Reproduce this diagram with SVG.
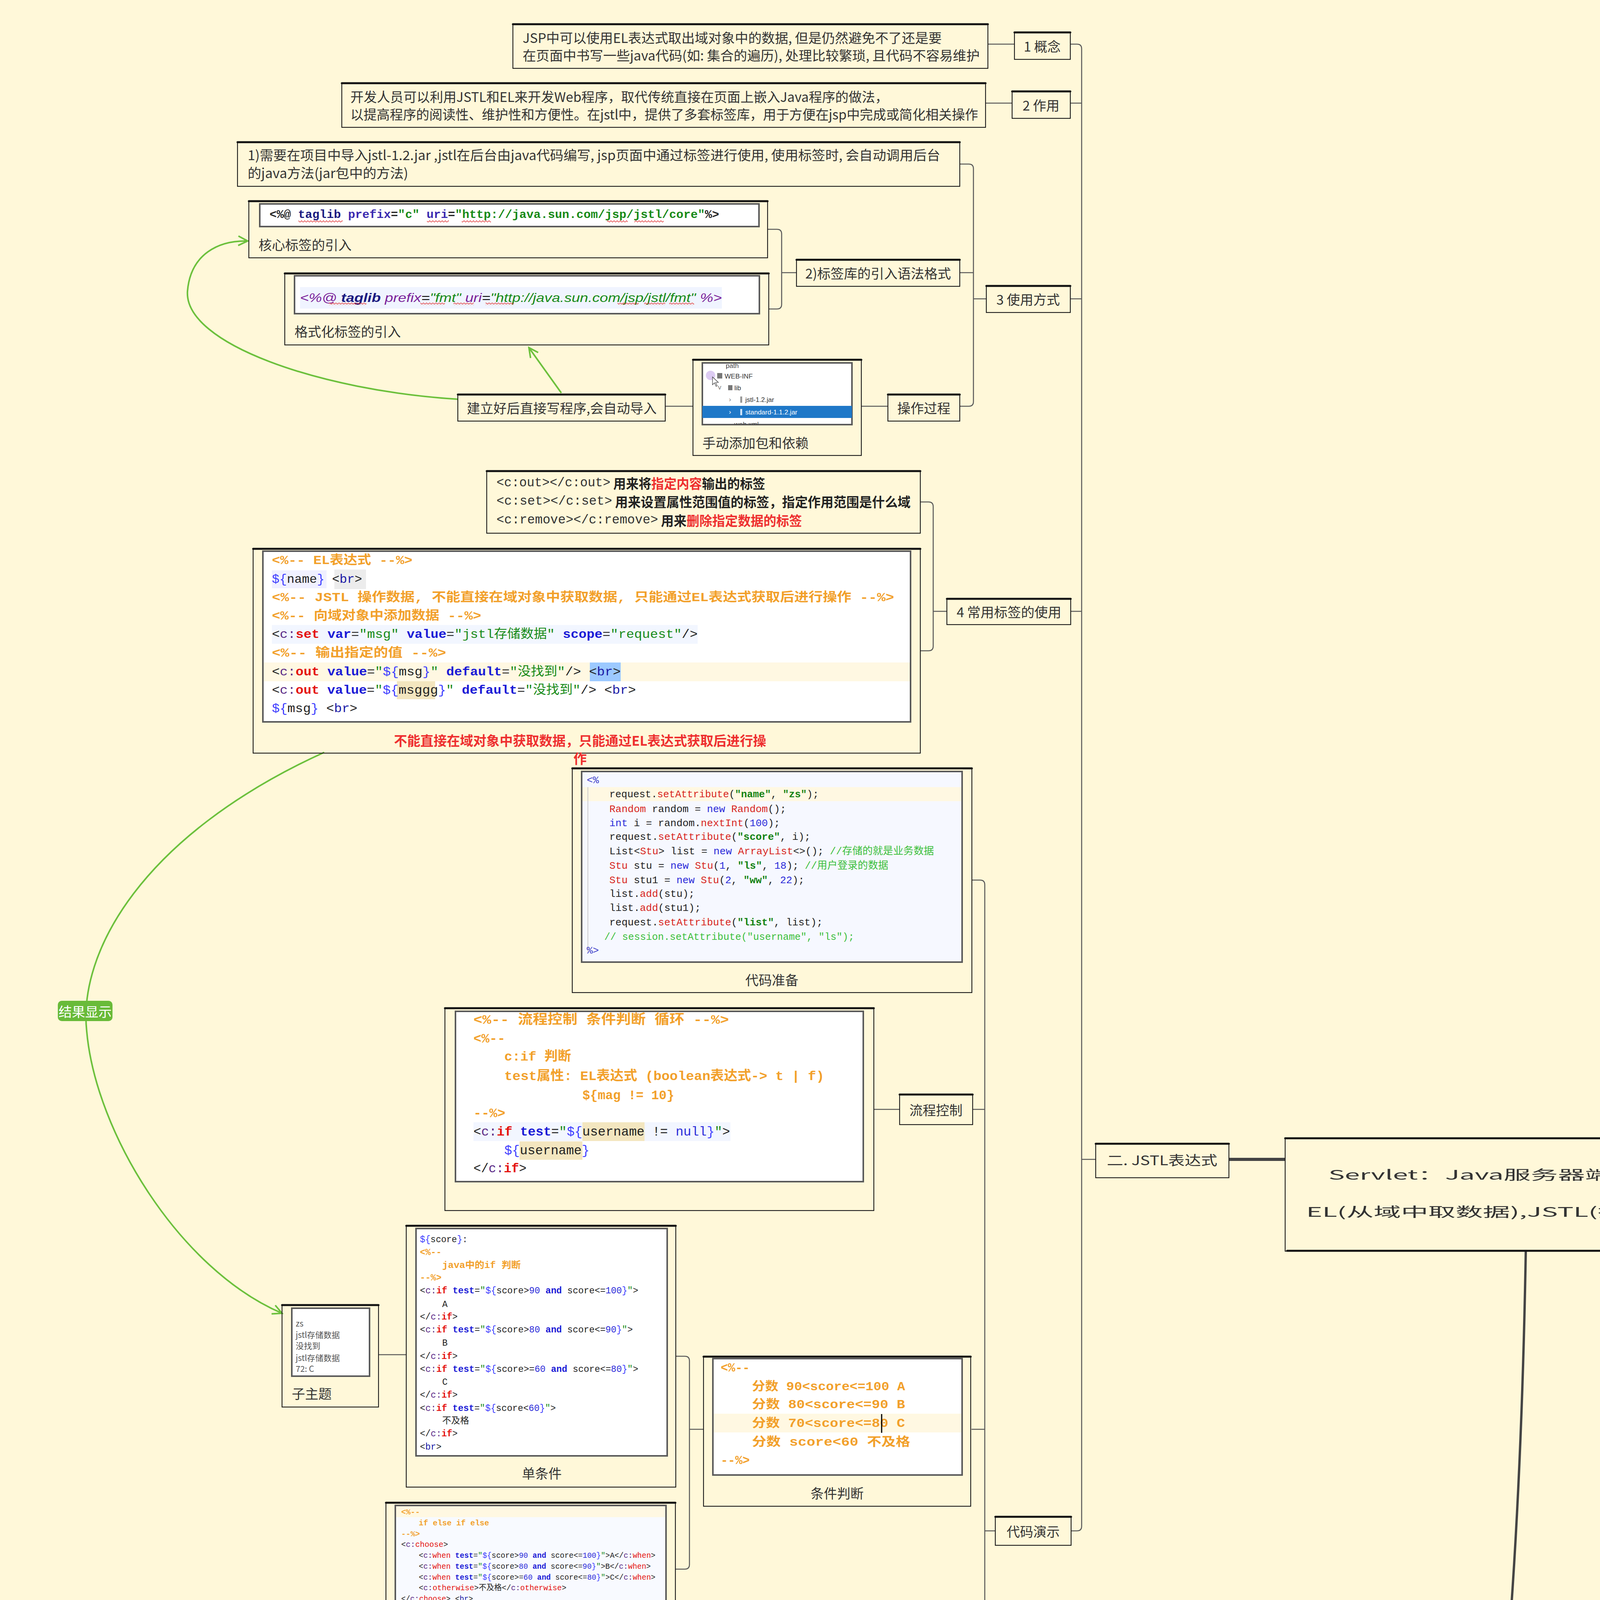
<svg xmlns="http://www.w3.org/2000/svg" width="5010" height="6101" viewBox="0 0 5010 6101" xml:space="preserve">
<defs>
<style>
.t{font-family:"Noto Sans CJK SC","Noto Sans",sans-serif;fill:#333;font-size:34px;dominant-baseline:central}
.tm{text-anchor:middle}
.nb{fill:none;stroke:#1b1b1b;stroke-width:2.2}
.tp{fill:none;stroke:#111;stroke-width:5;stroke-linecap:round}
.cn{fill:none;stroke:#595959;stroke-width:2.6}
.thick{fill:none;stroke:#444;stroke-width:8}
.gr{fill:none;stroke:#6cc03c;stroke-width:4}
.img{fill:#fff;stroke:#5a5a5a;stroke-width:4}
.c{font-family:"Liberation Mono","Noto Sans CJK SC",monospace;fill:#222;dominant-baseline:central}
.o{fill:#F2A02A;font-weight:bold}
.ns{fill:#5b2a86}
.tg{fill:#e4110e;font-weight:bold}
.tr{fill:#e4110e}
.at{fill:#1a1ad6;font-weight:bold}
.sv{fill:#178a17}
.el{fill:#3d3dff}
.bl{fill:#1a1aa6}
.mt{fill:#d8261e}
.kw{fill:#2b2bd9}
.st{fill:#128212;font-weight:bold}
.jc{fill:#3cbf3c}
.pc{fill:#3c3cc8}
.rd{fill:#ee2f2f}
.bd{font-weight:bold;fill:#222}
.wv{fill:url(#wave)}
</style>
<pattern id="wave" x="0" y="0" width="8" height="6" patternUnits="userSpaceOnUse"><path d="M0,5 L4,1 L8,5" fill="none" stroke="#e03030" stroke-width="1.4"/></pattern>
<marker id="ah" markerWidth="32" markerHeight="32" refX="28" refY="16" orient="auto" markerUnits="userSpaceOnUse"><path d="M4,4 L28,16 L4,28" fill="none" stroke="#6cc03c" stroke-width="4"/></marker>
<clipPath id="treeclip"><rect x="1798" y="929" width="383" height="158"/></clipPath>
<clipPath id="resclip"><rect x="1724" y="5397" width="739" height="404"/></clipPath>
</defs>
<rect x="0" y="0" width="5010" height="6101" fill="#FFF8D9"/>

<g id="connectors">
<path class="cn" d="M2529,113 H2597"/>
<path class="cn" d="M2523,264 H2591"/>
<path class="cn" d="M2740,113 H2757 Q2769,113 2769,125 V3907 Q2769,3919 2757,3919 H2742"/>
<path class="cn" d="M2740,264 H2769 M2740,765 H2769 M2741,1565 H2769 M2769,2968 H2805"/>
<path class="cn" d="M2457,420 H2480 Q2492,420 2492,432 V1028 Q2492,1040 2480,1040 H2457"/>
<path class="cn" d="M2457,698 H2492 M2492,765 H2525"/>
<path class="cn" d="M1965,587 H1989 Q2001,587 2001,599 V779 Q2001,791 1989,791 H1968"/>
<path class="cn" d="M2001,698 H2039"/>
<path class="cn" d="M2205,1040 H2273 M1703,1040 H1774"/>
<path class="cn" d="M2356,1285 H2377 Q2389,1285 2389,1297 V1654 Q2389,1666 2377,1666 H2356"/>
<path class="cn" d="M2389,1565 H2424"/>
<path class="cn" d="M2488,2253 H2509 Q2521,2253 2521,2265 V5623 Q2521,5635 2509,5635 H2485"/>
<path class="cn" d="M2489,2840 H2521 M2487,3659 H2521 M2490,4786 H2521 M2521,3919 H2548"/>
<path class="cn" d="M2237,2840 H2303"/>
<path class="cn" d="M1730,3472 H1753 Q1765,3472 1765,3484 V4005 Q1765,4017 1753,4017 H1729"/>
<path class="cn" d="M1765,3659 H1801"/>
<path class="cn" d="M969,3468 H1040"/>
<path class="cn" d="M2236,4501 H2256 Q2268,4501 2268,4513 V5075 Q2268,5087 2256,5087 H2235"/>
<path class="cn" d="M2268,4786 H2303"/>
<path class="cn" d="M1390,4501 H1460"/>
<path class="cn" d="M1368,4952 H1385 Q1395,4952 1395,4962 V5226 Q1395,5236 1385,5236 H1368"/>
<path class="cn" d="M1395,5087 H1437"/>
<path class="thick" d="M3146,2968 H3290"/>
<path class="thick" d="M4525,3054 H4671"/>
<path fill="none" stroke="#444" stroke-width="6" d="M3906,3203 C3880,4700 3720,5995 3146,6000"/>
<path class="gr" d="M1172,1022 C820,1000 470,880 480,745 C488,650 560,615 634,617" marker-end="url(#ah)"/>
<path class="gr" d="M1437,1006 L1354,890" marker-end="url(#ah)"/>
<path class="gr" d="M830,1926 C360,2140 200,2440 222,2640 C245,2900 460,3250 722,3362" marker-end="url(#ah)"/>
<g id="green-label"><rect x="148" y="2562" width="140" height="52" rx="10" fill="#69bb39"/><text class="t tm" x="218" y="2588" font-size="24" style="fill:#fff">结果显示</text></g>
</g>

<g id="central">
<rect class="nb" x="3290" y="2913" width="1235" height="290"/>
<path class="tp" d="M3290,2914 H4525 M3295,3202 H4520"/>
<text class="t tm" x="3911" y="3005" font-size="70" textLength="1020" lengthAdjust="spacingAndGlyphs">Servlet：Java服务器端小应用(4)</text>
<text class="t tm" x="3908" y="3100" font-size="70" textLength="1128" lengthAdjust="spacingAndGlyphs">EL(从域中取数据),JSTL(操作EL数据)</text>
</g>
<g id="n-el"><rect class="nb" x="4671" y="3011" width="284" height="87"/><path class="tp" d="M4671,3012 H4955"/><text class="t tm" x="4810" y="3054" font-size="40" textLength="231" lengthAdjust="spacingAndGlyphs">一. EL表达式</text></g>
<g id="n-jstl"><rect class="nb" x="2805" y="2927" width="341" height="88"/><path class="tp" d="M2805,2928 H3146"/><text class="t tm" x="2975" y="2968" font-size="40" textLength="283" lengthAdjust="spacingAndGlyphs">二. JSTL表达式</text></g>
<g id="n-case"><rect class="nb" x="2880" y="5958" width="266" height="89"/><path class="tp" d="M2880,5959 H3146"/><text class="t tm" x="3012" y="6002" font-size="46" textLength="214" lengthAdjust="spacingAndGlyphs">三 综合案例</text></g>

<g id="n-gainian"><rect class="nb" x="2597" y="82" width="143" height="70"/><path class="tp" d="M2597,83 H2740"/><text class="t tm" x="2668" y="117" font-size="35">1 概念</text></g>
<g id="n-zuoyong"><rect class="nb" x="2591" y="233" width="149" height="70"/><path class="tp" d="M2591,234 H2740"/><text class="t tm" x="2665" y="268" font-size="35">2 作用</text></g>
<g id="n-shiyong"><rect class="nb" x="2525" y="731" width="215" height="69"/><path class="tp" d="M2525,732 H2740"/><text class="t tm" x="2632" y="765" font-size="35">3 使用方式</text></g>
<g id="n-changyong"><rect class="nb" x="2424" y="1532" width="317" height="67"/><path class="tp" d="M2424,1533 H2741"/><text class="t tm" x="2583" y="1565" font-size="35" textLength="268" lengthAdjust="spacingAndGlyphs">4 常用标签的使用</text></g>
<g id="n-yanshi"><rect class="nb" x="2548" y="3882" width="194" height="74"/><path class="tp" d="M2548,3883 H2742"/><text class="t tm" x="2645" y="3919" font-size="35">代码演示</text></g>
<g id="n-yufa"><rect class="nb" x="2039" y="664" width="418" height="69"/><path class="tp" d="M2039,665 H2457"/><text class="t tm" x="2248" y="698" font-size="35" textLength="373" lengthAdjust="spacingAndGlyphs">2)标签库的引入语法格式</text></g>
<g id="n-caozuo"><rect class="nb" x="2273" y="1009" width="184" height="69"/><path class="tp" d="M2273,1010 H2457"/><text class="t tm" x="2365" y="1043" font-size="35">操作过程</text></g>
<g id="n-jianli"><rect class="nb" x="1172" y="1009" width="531" height="69"/><path class="tp" d="M1172,1010 H1703"/><text class="t tm" x="1438" y="1043" font-size="35" textLength="486" lengthAdjust="spacingAndGlyphs">建立好后直接写程序,会自动导入</text></g>
<g id="n-liucheng"><rect class="nb" x="2303" y="2801" width="187" height="78"/><path class="tp" d="M2303,2802 H2490"/><text class="t tm" x="2396" y="2840" font-size="35">流程控制</text></g>
<g id="n-xunhuan"><rect class="nb" x="2303" y="4750" width="187" height="73"/><path class="tp" d="M2303,4751 H2490"/><text class="t tm" x="2396" y="4786" font-size="35">循环遍历</text></g>

<g id="b-concept"><rect class="nb" x="1313" y="61" width="1216" height="114"/><path class="tp" d="M1313,62 H2529"/>
<text class="t" x="1338" y="95" font-size="35" textLength="1073" lengthAdjust="spacingAndGlyphs">JSP中可以使用EL表达式取出域对象中的数据, 但是仍然避免不了还是要</text>
<text class="t" x="1338" y="140" font-size="35" textLength="1170" lengthAdjust="spacingAndGlyphs">在页面中书写一些java代码(如: 集合的遍历), 处理比较繁琐, 且代码不容易维护</text></g>
<g id="b-role"><rect class="nb" x="875" y="212" width="1648" height="114"/><path class="tp" d="M875,213 H2523"/>
<text class="t" x="897" y="246" font-size="35" textLength="1377" lengthAdjust="spacingAndGlyphs">开发人员可以利用JSTL和EL来开发Web程序，取代传统直接在页面上嵌入Java程序的做法，</text>
<text class="t" x="897" y="291" font-size="35" textLength="1607" lengthAdjust="spacingAndGlyphs">以提高程序的阅读性、维护性和方便性。在jstl中，提供了多套标签库，用于方便在jsp中完成或简化相关操作</text></g>
<g id="b-import"><rect class="nb" x="608" y="363" width="1849" height="114"/><path class="tp" d="M608,364 H2457"/>
<text class="t" x="634" y="395" font-size="35" textLength="1773" lengthAdjust="spacingAndGlyphs">1)需要在项目中导入jstl-1.2.jar ,jstl在后台由java代码编写, jsp页面中通过标签进行使用, 使用标签时, 会自动调用后台</text>
<text class="t" x="634" y="441" font-size="35" textLength="411" lengthAdjust="spacingAndGlyphs">的java方法(jar包中的方法)</text></g>

<g id="b-core"><rect class="nb" x="637" y="514" width="1328" height="146"/><path class="tp" d="M637,515 H1965"/>
<rect class="img" x="665" y="522" width="1278" height="58"/>
<text class="c" x="690" y="550" font-size="30" font-weight="bold" textLength="1151" lengthAdjust="spacingAndGlyphs">&lt;%@ <tspan style="fill:#1a1a80">taglib</tspan> <tspan style="fill:#3a2ab0">prefix</tspan>=<tspan class="sv">"c"</tspan> <tspan style="fill:#3a2ab0">uri</tspan>=<tspan class="sv">"http://java.sun.com/jsp/jstl/core"</tspan>%&gt;</text>
<rect class="wv" x="764" y="563" width="113" height="6"/><rect class="wv" x="1093" y="563" width="56" height="6"/><rect class="wv" x="1182" y="563" width="75" height="6"/><rect class="wv" x="1554" y="563" width="53" height="6"/><rect class="wv" x="1624" y="563" width="75" height="6"/>
<text class="t" x="662" y="625" font-size="34">核心标签的引入</text></g>
<g id="b-fmt"><rect class="nb" x="729" y="699" width="1239" height="184"/><path class="tp" d="M729,700 H1968"/>
<rect class="img" x="754" y="706" width="1190" height="97"/>
<rect x="768" y="735" width="1080" height="55" fill="#f0f4ff"/>
<text x="768" y="762" font-family="Liberation Sans, sans-serif" font-style="italic" font-size="32" dominant-baseline="central" textLength="1080" lengthAdjust="spacingAndGlyphs"><tspan fill="#7a1f9a">&lt;%@</tspan> <tspan fill="#1a1a80" font-weight="bold">taglib</tspan> <tspan fill="#7a1f9a">prefix</tspan>=<tspan fill="#178a17">"fmt"</tspan> <tspan fill="#7a1f9a">uri</tspan>=<tspan fill="#178a17">"http://java.sun.com/jsp/jstl/fmt"</tspan> <tspan fill="#7a1f9a">%&gt;</tspan></text>
<rect class="wv" x="842" y="775" width="96" height="6"/><rect class="wv" x="1076" y="775" width="63" height="6"/><rect class="wv" x="1161" y="775" width="52" height="6"/><rect class="wv" x="1243" y="775" width="73" height="6"/><rect class="wv" x="1581" y="775" width="54" height="6"/><rect class="wv" x="1649" y="775" width="54" height="6"/><rect class="wv" x="1713" y="775" width="64" height="6"/>
<text class="t" x="754" y="847" font-size="34">格式化标签的引入</text></g>

<g id="b-jar"><rect class="nb" x="1774" y="920" width="431" height="246"/><path class="tp" d="M1774,921 H2205"/>
<rect class="img" x="1798" y="929" width="383" height="158"/>
<g clip-path="url(#treeclip)" font-family="Liberation Sans, sans-serif" font-size="17">
<text x="1858" y="936" fill="#444" dominant-baseline="central">path</text>
<circle cx="1819" cy="961" r="12" fill="#dccbf2"/>
<rect x="1836" y="955" width="13" height="14" fill="#777"/>
<text x="1855" y="963" fill="#333" dominant-baseline="central">WEB-INF</text>
<text x="1838" y="991" fill="#777" dominant-baseline="central">v</text>
<rect x="1864" y="986" width="11" height="13" fill="#777"/>
<text x="1880" y="993" fill="#333" dominant-baseline="central">lib</text>
<text x="1866" y="1022" fill="#777" dominant-baseline="central">›</text>
<rect x="1895" y="1015" width="5" height="16" fill="#999"/>
<text x="1908" y="1023" fill="#333" dominant-baseline="central">jstl-1.2.jar</text>
<rect x="1798" y="1039" width="383" height="31" fill="#1f78c8"/>
<text x="1866" y="1054" fill="#fff" dominant-baseline="central">›</text>
<rect x="1895" y="1047" width="5" height="16" fill="#cfe3f7"/>
<text x="1908" y="1055" fill="#fff" dominant-baseline="central">standard-1.1.2.jar</text>
<text x="1880" y="1086" fill="#444" dominant-baseline="central">web.xml</text>
<path d="M1824,965 l0,20 l5,-5 l4,9 l3,-1 l-4,-9 l7,0 z" fill="#fff" stroke="#333" stroke-width="1.2"/>
</g>
<text class="t" x="1798" y="1132" font-size="34">手动添加包和依赖</text></g>

<g id="b-tags"><rect class="nb" x="1246" y="1205" width="1110" height="160"/><path class="tp" d="M1246,1206 H2356"/>
<text class="t" x="1271" y="1236" font-size="32" textLength="688" lengthAdjust="spacingAndGlyphs"><tspan font-family="Liberation Mono, monospace">&lt;c:out&gt;&lt;/c:out&gt;</tspan> <tspan class="bd">用来将</tspan><tspan class="rd" font-weight="bold">指定内容</tspan><tspan class="bd">输出的标签</tspan></text>
<text class="t" x="1271" y="1283" font-size="32" textLength="1060" lengthAdjust="spacingAndGlyphs"><tspan font-family="Liberation Mono, monospace">&lt;c:set&gt;&lt;/c:set&gt;</tspan> <tspan class="bd">用来设置属性范围值的标签，指定作用范围是什么域</tspan></text>
<text class="t" x="1271" y="1331" font-size="32" textLength="782" lengthAdjust="spacingAndGlyphs"><tspan font-family="Liberation Mono, monospace">&lt;c:remove&gt;&lt;/c:remove&gt;</tspan> <tspan class="bd">用来</tspan><tspan class="rd" font-weight="bold">删除指定数据的标签</tspan></text></g>

<g id="b-elcode"><rect class="nb" x="648" y="1404" width="1708" height="524"/><path class="tp" d="M648,1405 H2356"/>
<rect class="img" x="673" y="1411" width="1658" height="437"/>
<rect x="696" y="1460" width="140" height="46" fill="#f0f0ff"/><rect x="856" y="1458" width="81" height="50" fill="#ececec"/>
<rect x="696" y="1600" width="1090" height="48" fill="#f2f6ff"/>
<rect x="675" y="1696" width="1654" height="48" fill="#fff8e2"/>
<rect x="1510" y="1696" width="79" height="48" fill="#9cc9ff"/>
<rect x="1016" y="1744" width="98" height="46" fill="#f3e6bf"/>
<text class="c o" x="696" y="1435" font-size="32" textLength="360" lengthAdjust="spacingAndGlyphs">&lt;%-- EL表达式 --%&gt;</text>
<text class="c" x="696" y="1483" font-size="32" textLength="231" lengthAdjust="spacingAndGlyphs"><tspan class="el">${</tspan>name<tspan class="el">}</tspan> &lt;<tspan class="bl">br</tspan>&gt;</text>
<text class="c o" x="696" y="1530" font-size="32" textLength="1593" lengthAdjust="spacingAndGlyphs">&lt;%-- JSTL 操作数据, 不能直接在域对象中获取数据, 只能通过EL表达式获取后进行操作 --%&gt;</text>
<text class="c o" x="696" y="1577" font-size="32" textLength="536" lengthAdjust="spacingAndGlyphs">&lt;%-- 向域对象中添加数据 --%&gt;</text>
<text class="c" x="696" y="1624" font-size="32" textLength="1090" lengthAdjust="spacingAndGlyphs">&lt;<tspan class="ns">c:</tspan><tspan class="tg">set</tspan> <tspan class="at">var</tspan>=<tspan class="sv">"msg"</tspan> <tspan class="at">value</tspan>=<tspan class="sv">"jstl存储数据"</tspan> <tspan class="at">scope</tspan>=<tspan class="sv">"request"</tspan>/&gt;</text>
<text class="c o" x="696" y="1672" font-size="32" textLength="446" lengthAdjust="spacingAndGlyphs">&lt;%-- 输出指定的值  --%&gt;</text>
<text class="c" x="696" y="1720" font-size="32" textLength="893" lengthAdjust="spacingAndGlyphs">&lt;<tspan class="ns">c:</tspan><tspan class="tg">out</tspan> <tspan class="at">value</tspan>=<tspan class="sv">"</tspan><tspan class="el">${</tspan>msg<tspan class="el">}</tspan><tspan class="sv">"</tspan> <tspan class="at">default</tspan>=<tspan class="sv">"没找到"</tspan>/&gt; &lt;<tspan class="bl">br</tspan>&gt;</text>
<text class="c" x="696" y="1767" font-size="32" textLength="932" lengthAdjust="spacingAndGlyphs">&lt;<tspan class="ns">c:</tspan><tspan class="tg">out</tspan> <tspan class="at">value</tspan>=<tspan class="sv">"</tspan><tspan class="el">${</tspan>msggg<tspan class="el">}</tspan><tspan class="sv">"</tspan> <tspan class="at">default</tspan>=<tspan class="sv">"没找到"</tspan>/&gt; &lt;<tspan class="bl">br</tspan>&gt;</text>
<text class="c" x="696" y="1814" font-size="32" textLength="219" lengthAdjust="spacingAndGlyphs"><tspan class="el">${</tspan>msg<tspan class="el">}</tspan> &lt;<tspan class="bl">br</tspan>&gt;</text>
<text class="t rd tm" x="1485" y="1894" font-size="34" font-weight="bold" textLength="953" lengthAdjust="spacingAndGlyphs" style="fill:#ee2f2f">不能直接在域对象中获取数据，只能通过EL表达式获取后进行操</text>
<text class="t tm" x="1485" y="1940" font-size="34" font-weight="bold" style="fill:#ee2f2f">作</text></g>

<g id="b-prep"><rect class="nb" x="1465" y="1966" width="1023" height="575"/><path class="tp" d="M1465,1967 H2488"/>
<rect class="img" x="1489" y="1975" width="974" height="488" style="fill:#f6f8ff"/>
<rect x="1491" y="2015" width="970" height="36" fill="#fff8e2"/>
<path d="M1505,2015 V2440" stroke="#ccc" stroke-width="2"/>
<g font-size="26">
<text class="c pc" x="1502" y="1998">&lt;%</text>
<text class="c" x="1560" y="2034" textLength="536" lengthAdjust="spacingAndGlyphs">request.<tspan class="mt">setAttribute</tspan>(<tspan class="st">"name"</tspan>, <tspan class="st">"zs"</tspan>);</text>
<text class="c" x="1560" y="2072"><tspan class="mt">Random</tspan> random = <tspan class="kw">new</tspan> <tspan class="mt">Random</tspan>();</text>
<text class="c" x="1560" y="2108"><tspan class="kw">int</tspan> i = random.<tspan class="mt">nextInt</tspan>(<tspan class="kw">100</tspan>);</text>
<text class="c" x="1560" y="2143">request.<tspan class="mt">setAttribute</tspan>(<tspan class="st">"score"</tspan>, i);</text>
<text class="c" x="1560" y="2180" textLength="831" lengthAdjust="spacingAndGlyphs">List&lt;<tspan class="mt">Stu</tspan>&gt; list = <tspan class="kw">new</tspan> <tspan class="mt">ArrayList</tspan>&lt;&gt;(); <tspan class="jc">//存储的就是业务数据</tspan></text>
<text class="c" x="1560" y="2217" textLength="714" lengthAdjust="spacingAndGlyphs"><tspan class="mt">Stu</tspan> stu = <tspan class="kw">new</tspan> <tspan class="mt">Stu</tspan>(<tspan class="kw">1</tspan>, <tspan class="st">"ls"</tspan>, <tspan class="kw">18</tspan>); <tspan class="jc">//用户登录的数据</tspan></text>
<text class="c" x="1560" y="2254"><tspan class="mt">Stu</tspan> stu1 = <tspan class="kw">new</tspan> <tspan class="mt">Stu</tspan>(<tspan class="kw">2</tspan>, <tspan class="st">"ww"</tspan>, <tspan class="kw">22</tspan>);</text>
<text class="c" x="1560" y="2289">list.<tspan class="mt">add</tspan>(stu);</text>
<text class="c" x="1560" y="2325">list.<tspan class="mt">add</tspan>(stu1);</text>
<text class="c" x="1560" y="2362">request.<tspan class="mt">setAttribute</tspan>(<tspan class="st">"list"</tspan>, list);</text>
<text class="c jc" x="1547" y="2399" textLength="640" lengthAdjust="spacingAndGlyphs">// session.setAttribute("username", "ls");</text>
<text class="c pc" x="1502" y="2434">%&gt;</text>
</g>
<text class="t tm" x="1976" y="2507" font-size="34">代码准备</text></g>

<g id="b-flow"><rect class="nb" x="1139" y="2580" width="1098" height="519"/><path class="tp" d="M1139,2581 H2237"/>
<rect class="img" x="1166" y="2589" width="1044" height="436"/>
<rect x="1212" y="2873" width="658" height="48" fill="#f2f6ff"/>
<rect x="1491" y="2873" width="159" height="48" fill="#f3e6bf"/>
<rect x="1330" y="2922" width="161" height="47" fill="#f3e6bf"/>
<g font-size="34">
<text class="c o" x="1212" y="2612" textLength="654" lengthAdjust="spacingAndGlyphs">&lt;%-- 流程控制   条件判断   循环 --%&gt;</text>
<text class="c o" x="1212" y="2660">&lt;%--</text>
<text class="c o" x="1291" y="2706" textLength="171" lengthAdjust="spacingAndGlyphs">c:if 判断</text>
<text class="c o" x="1291" y="2756" textLength="819" lengthAdjust="spacingAndGlyphs">test属性: EL表达式 (boolean表达式-&gt; t | f)</text>
<text class="c o" x="1491" y="2805" textLength="235" lengthAdjust="spacingAndGlyphs">${mag != 10}</text>
<text class="c o" x="1212" y="2851">--%&gt;</text>
<text class="c" x="1212" y="2898" textLength="657" lengthAdjust="spacingAndGlyphs">&lt;<tspan class="ns">c:</tspan><tspan class="tg">if</tspan> <tspan class="at">test</tspan>=<tspan class="sv">"</tspan><tspan class="el">${</tspan>username != <tspan class="kw">null</tspan><tspan class="el">}</tspan><tspan class="sv">"</tspan>&gt;</text>
<text class="c" x="1291" y="2946" textLength="218" lengthAdjust="spacingAndGlyphs"><tspan class="el">${</tspan>username<tspan class="el">}</tspan></text>
<text class="c" x="1212" y="2992" textLength="136" lengthAdjust="spacingAndGlyphs">&lt;/<tspan class="ns">c:</tspan><tspan class="tg">if</tspan>&gt;</text>
</g></g>

<g id="b-single"><rect class="nb" x="1040" y="3137" width="690" height="670"/><path class="tp" d="M1040,3138 H1730"/>
<rect class="img" x="1065" y="3145" width="643" height="582"/>
<g font-size="23">
<text class="c" x="1075" y="3174" textLength="122" lengthAdjust="spacingAndGlyphs"><tspan class="el">${</tspan>score<tspan class="el">}</tspan>:</text>
<text class="c o" x="1075" y="3207">&lt;%--</text>
<text class="c o" x="1132" y="3240" textLength="201" lengthAdjust="spacingAndGlyphs">java中的if 判断</text>
<text class="c o" x="1075" y="3272">--%&gt;</text>
<text class="c" x="1075" y="3305" textLength="559" lengthAdjust="spacingAndGlyphs">&lt;<tspan class="ns">c:</tspan><tspan class="tg">if</tspan> <tspan class="at">test</tspan>=<tspan class="sv">"</tspan><tspan class="el">${</tspan>score&gt;<tspan class="kw">90</tspan> <tspan class="at">and</tspan> score&lt;=<tspan class="kw">100</tspan><tspan class="el">}</tspan><tspan class="sv">"</tspan>&gt;</text>
<text class="c" x="1132" y="3340">A</text>
<text class="c" x="1075" y="3372">&lt;/<tspan class="ns">c:</tspan><tspan class="tg">if</tspan>&gt;</text>
<text class="c" x="1075" y="3405" textLength="545" lengthAdjust="spacingAndGlyphs">&lt;<tspan class="ns">c:</tspan><tspan class="tg">if</tspan> <tspan class="at">test</tspan>=<tspan class="sv">"</tspan><tspan class="el">${</tspan>score&gt;<tspan class="kw">80</tspan> <tspan class="at">and</tspan> score&lt;=<tspan class="kw">90</tspan><tspan class="el">}</tspan><tspan class="sv">"</tspan>&gt;</text>
<text class="c" x="1132" y="3439">B</text>
<text class="c" x="1075" y="3473">&lt;/<tspan class="ns">c:</tspan><tspan class="tg">if</tspan>&gt;</text>
<text class="c" x="1075" y="3506" textLength="559" lengthAdjust="spacingAndGlyphs">&lt;<tspan class="ns">c:</tspan><tspan class="tg">if</tspan> <tspan class="at">test</tspan>=<tspan class="sv">"</tspan><tspan class="el">${</tspan>score&gt;=<tspan class="kw">60</tspan> <tspan class="at">and</tspan> score&lt;=<tspan class="kw">80</tspan><tspan class="el">}</tspan><tspan class="sv">"</tspan>&gt;</text>
<text class="c" x="1132" y="3539">C</text>
<text class="c" x="1075" y="3572">&lt;/<tspan class="ns">c:</tspan><tspan class="tg">if</tspan>&gt;</text>
<text class="c" x="1075" y="3606" textLength="348" lengthAdjust="spacingAndGlyphs">&lt;<tspan class="ns">c:</tspan><tspan class="tg">if</tspan> <tspan class="at">test</tspan>=<tspan class="sv">"</tspan><tspan class="el">${</tspan>score&lt;<tspan class="kw">60</tspan><tspan class="el">}</tspan><tspan class="sv">"</tspan>&gt;</text>
<text class="c" x="1132" y="3638">不及格</text>
<text class="c" x="1075" y="3671">&lt;/<tspan class="ns">c:</tspan><tspan class="tg">if</tspan>&gt;</text>
<text class="c" x="1075" y="3705">&lt;<tspan class="bl">br</tspan>&gt;</text>
</g>
<text class="t tm" x="1387" y="3770" font-size="34">单条件</text></g>

<g id="b-subtopic"><rect class="nb" x="722" y="3340" width="247" height="262"/><path class="tp" d="M722,3341 H969"/>
<rect class="img" x="747" y="3349" width="199" height="174"/>
<g font-family="Noto Sans CJK SC, sans-serif" font-size="21" fill="#555">
<text x="757" y="3387" dominant-baseline="central">zs</text>
<text x="757" y="3416" dominant-baseline="central">jstl存储数据</text>
<text x="757" y="3444" dominant-baseline="central">没找到</text>
<text x="757" y="3475" dominant-baseline="central">jstl存储数据</text>
<text x="757" y="3503" dominant-baseline="central">72: C</text>
</g>
<text class="t" x="747" y="3566" font-size="34">子主题</text></g>

<g id="b-cond"><rect class="nb" x="1801" y="3472" width="684" height="384"/><path class="tp" d="M1801,3473 H2485"/>
<rect class="img" x="1825" y="3478" width="638" height="298"/>
<rect x="1827" y="3619" width="634" height="48" fill="#fff8e2"/>
<g font-size="31">
<text class="c o" x="1845" y="3502">&lt;%--</text>
<text class="c o" x="1925" y="3550" textLength="392" lengthAdjust="spacingAndGlyphs">分数 90&lt;score&lt;=100 A</text>
<text class="c o" x="1925" y="3596" textLength="392" lengthAdjust="spacingAndGlyphs">分数 80&lt;score&lt;=90  B</text>
<text class="c o" x="1925" y="3644" textLength="392" lengthAdjust="spacingAndGlyphs">分数 70&lt;score&lt;=80  C</text>
<text class="c o" x="1925" y="3692" textLength="405" lengthAdjust="spacingAndGlyphs">分数 score&lt;60  不及格</text>
<text class="c o" x="1845" y="3739">--%&gt;</text>
</g>
<path d="M2257,3620 V3668" stroke="#000" stroke-width="3"/>
<text class="t tm" x="2143" y="3821" font-size="34">条件判断</text></g>

<g id="b-multi"><rect class="nb" x="988" y="3846" width="741" height="343"/><path class="tp" d="M988,3847 H1729"/>
<rect class="img" x="1012" y="3854" width="693" height="256" style="fill:#f8faff"/>
<rect x="1014" y="3856" width="689" height="28" fill="#fff8e2"/>
<g font-size="20">
<text class="c o" x="1027" y="3871">&lt;%--</text>
<text class="c o" x="1072" y="3899">if else if  else</text>
<text class="c o" x="1027" y="3927">--%&gt;</text>
<text class="c" x="1027" y="3954">&lt;<tspan class="ns">c:</tspan><tspan class="tr">choose</tspan>&gt;</text>
<text class="c" x="1072" y="3982" textLength="606" lengthAdjust="spacingAndGlyphs">&lt;<tspan class="ns">c:</tspan><tspan class="tr">when</tspan> <tspan class="at">test</tspan>=<tspan class="sv">"</tspan><tspan class="el">${</tspan>score&gt;<tspan class="kw">90</tspan> <tspan class="at">and</tspan> score&lt;=<tspan class="kw">100</tspan><tspan class="el">}</tspan><tspan class="sv">"</tspan>&gt;A&lt;/<tspan class="ns">c:</tspan><tspan class="tr">when</tspan>&gt;</text>
<text class="c" x="1072" y="4010" textLength="594" lengthAdjust="spacingAndGlyphs">&lt;<tspan class="ns">c:</tspan><tspan class="tr">when</tspan> <tspan class="at">test</tspan>=<tspan class="sv">"</tspan><tspan class="el">${</tspan>score&gt;<tspan class="kw">80</tspan> <tspan class="at">and</tspan> score&lt;=<tspan class="kw">90</tspan><tspan class="el">}</tspan><tspan class="sv">"</tspan>&gt;B&lt;/<tspan class="ns">c:</tspan><tspan class="tr">when</tspan>&gt;</text>
<text class="c" x="1072" y="4038" textLength="606" lengthAdjust="spacingAndGlyphs">&lt;<tspan class="ns">c:</tspan><tspan class="tr">when</tspan> <tspan class="at">test</tspan>=<tspan class="sv">"</tspan><tspan class="el">${</tspan>score&gt;=<tspan class="kw">60</tspan> <tspan class="at">and</tspan> score&lt;=<tspan class="kw">80</tspan><tspan class="el">}</tspan><tspan class="sv">"</tspan>&gt;C&lt;/<tspan class="ns">c:</tspan><tspan class="tr">when</tspan>&gt;</text>
<text class="c" x="1072" y="4065" textLength="378" lengthAdjust="spacingAndGlyphs">&lt;<tspan class="ns">c:</tspan><tspan class="tr">otherwise</tspan>&gt;不及格&lt;/<tspan class="ns">c:</tspan><tspan class="tr">otherwise</tspan>&gt;</text>
<text class="c" x="1027" y="4093" textLength="184" lengthAdjust="spacingAndGlyphs">&lt;/<tspan class="ns">c:</tspan><tspan class="tr">choose</tspan>&gt; &lt;<tspan class="bl">br</tspan>&gt;</text>
</g>
<text class="t tm" x="1358" y="4153" font-size="34">多条件</text></g>

<g id="b-foreach-i"><rect class="nb" x="57" y="4387" width="1333" height="238"/><path class="tp" d="M57,4388 H1390"/>
<rect class="img" x="85" y="4395" width="1281" height="150"/>
<rect x="103" y="4397" width="1217" height="44" fill="#f2f6ff"/>
<g font-size="32">
<text class="c" x="103" y="4419" textLength="1217" lengthAdjust="spacingAndGlyphs">&lt;<tspan class="ns">c:</tspan><tspan class="tg">forEach</tspan> <tspan class="at">var</tspan>=<tspan class="sv">"i"</tspan> <tspan class="at">begin</tspan>=<tspan class="sv">"0"</tspan> <tspan class="at">end</tspan>=<tspan class="sv">"</tspan><tspan class="el">${</tspan>list.size()-1<tspan class="el">}</tspan><tspan class="sv">"</tspan> <tspan class="at">step</tspan>=<tspan class="sv">"1"</tspan>&gt;</text>
<text class="c" x="179" y="4466" textLength="281" lengthAdjust="spacingAndGlyphs"><tspan class="el">${</tspan>list.get(i)<tspan class="el">}</tspan></text>
<text class="c" x="103" y="4512" textLength="239" lengthAdjust="spacingAndGlyphs">&lt;/<tspan class="ns">c:</tspan><tspan class="tg">forEach</tspan>&gt;</text>
</g>
<text class="t tm" x="716" y="4589" font-size="34" textLength="545" lengthAdjust="spacingAndGlyphs">数组的长度为length;list的长度为siz</text>
<text class="t tm" x="716" y="4639" font-size="34">e</text></g>

<g id="b-loop"><rect class="nb" x="1460" y="4228" width="776" height="555"/><path class="tp" d="M1460,4229 H2236"/>
<rect class="img" x="1485" y="4236" width="726" height="474"/>
<g font-size="24">
<text class="c o" x="1492" y="4255">&lt;%--</text>
<text class="c o" x="1551" y="4291">循环:</text>
<text class="c o" x="1612" y="4327">1. for循环</text>
<text class="c o" x="1673" y="4363">var: 循环的变量值</text>
<text class="c o" x="1673" y="4400">begin: 开始</text>
<text class="c o" x="1673" y="4436">end: 结束</text>
<text class="c o" x="1673" y="4473">step: 步长(每次增加几)</text>
<text class="c o" x="1492" y="4510">--%&gt;</text>
<text class="c o" x="1492" y="4547">&lt;%--</text>
<text class="c o" x="1551" y="4584" textLength="629" lengthAdjust="spacingAndGlyphs">for (int i = 0; i &lt; list.size()-1; i++) {</text>
<text class="c o" x="1612" y="4621" textLength="490" lengthAdjust="spacingAndGlyphs">System.out.println(list.get(i));</text>
<text class="c o" x="1551" y="4657">}</text>
<text class="c o" x="1492" y="4692">--%&gt;</text>
</g></g>

<g id="b-varitems"><rect class="nb" x="500" y="4822" width="868" height="260"/><path class="tp" d="M500,4823 H1368"/>
<rect class="img" x="525" y="4831" width="818" height="178"/>
<g font-size="32">
<text class="c o" x="536" y="4850">&lt;%--</text>
<text class="c o" x="606" y="4892" textLength="704" lengthAdjust="spacingAndGlyphs">var: 每一次循环获取到的集合泛型类型的对象</text>
<text class="c o" x="606" y="4934" textLength="193" lengthAdjust="spacingAndGlyphs">items: 集合</text>
<text class="c o" x="536" y="4976">--%&gt;</text>
</g></g>

<g id="b-foreach-stu"><rect class="nb" x="486" y="5121" width="882" height="230"/><path class="tp" d="M486,5122 H1368"/>
<rect class="img" x="510" y="5130" width="833" height="148"/>
<rect x="548" y="5132" width="742" height="44" fill="#f2f6ff"/>
<g font-size="33">
<text class="c" x="548" y="5154" textLength="739" lengthAdjust="spacingAndGlyphs">&lt;<tspan class="ns">c:</tspan><tspan class="tg">forEach</tspan> <tspan class="at">var</tspan>=<tspan class="sv">"stu"</tspan> <tspan class="at">items</tspan>=<tspan class="sv">"</tspan><tspan class="el">${</tspan>list<tspan class="el">}</tspan><tspan class="sv">"</tspan>&gt;</text>
<text class="c" x="629" y="5202" textLength="118" lengthAdjust="spacingAndGlyphs"><tspan class="el">${</tspan>stu<tspan class="el">}</tspan></text>
<text class="c" x="548" y="5250" textLength="239" lengthAdjust="spacingAndGlyphs">&lt;/<tspan class="ns">c:</tspan><tspan class="tg">forEach</tspan>&gt;</text>
</g></g>

<g id="b-enhfor"><rect class="nb" x="1437" y="4920" width="798" height="333"/><path class="tp" d="M1437,4921 H2235"/>
<rect class="img" x="1462" y="4927" width="748" height="247"/>
<g font-size="33">
<text class="c o" x="1488" y="4959">&lt;%--</text>
<text class="c o" x="1566" y="5007" textLength="438" lengthAdjust="spacingAndGlyphs">for (Stu stu : list) {</text>
<text class="c o" x="1646" y="5054" textLength="499" lengthAdjust="spacingAndGlyphs">System.out.println(stu2);</text>
<text class="c o" x="1566" y="5102">}</text>
<text class="c o" x="1488" y="5148">--%&gt;</text>
</g>
<text class="t tm" x="1834" y="5218" font-size="34">加强for循环</text></g>

<g id="b-result"><rect class="nb" x="1700" y="5390" width="785" height="490"/><path class="tp" d="M1700,5391 H2485"/>
<rect class="img" x="1724" y="5397" width="739" height="404"/>
<g clip-path="url(#resclip)">
<rect x="1724" y="5397" width="739" height="13" fill="#e6e6e6"/>
<path d="M1741,5397 V5801" stroke="#ddd" stroke-width="3"/>
<g font-family="DejaVu Sans, sans-serif" font-size="24" dominant-baseline="central">
<text x="1760" y="5437" fill="#555">←</text>
<text x="1806" y="5437" fill="#aaa">→</text>
<text x="1849" y="5437" fill="#555">C</text>
<text x="1894" y="5437" fill="#555">⌂</text>
</g>
<rect x="1939" y="5418" width="530" height="37" rx="18" fill="#f1f3f4"/>
<circle cx="1962" cy="5437" r="8" fill="none" stroke="#555" stroke-width="2"/>
<text x="1986" y="5437" font-family="Liberation Sans, sans-serif" font-size="20" fill="#333" dominant-baseline="central" textLength="411" lengthAdjust="spacingAndGlyphs">localhost:8080/Servlet_Day04/testJSTL_EL.js</text>
<circle cx="2432" cy="5445" r="30" fill="#5aaef3"/>
<text x="2432" y="5447" font-family="Liberation Sans, sans-serif" font-size="17" fill="#fff" text-anchor="middle" dominant-baseline="central">23:09</text>
<g fill="#e44"><rect x="1761" y="5474" width="4" height="4"/><rect x="1768" y="5474" width="4" height="4" fill="#3a3"/><rect x="1775" y="5474" width="4" height="4" fill="#36c"/><rect x="1761" y="5481" width="4" height="4" fill="#fb0"/><rect x="1768" y="5481" width="4" height="4" fill="#36c"/><rect x="1775" y="5481" width="4" height="4"/><rect x="1761" y="5488" width="4" height="4" fill="#3a3"/><rect x="1768" y="5488" width="4" height="4" fill="#fb0"/><rect x="1775" y="5488" width="4" height="4" fill="#3a3"/></g>
<text x="1792" y="5482" font-family="Noto Sans CJK SC, sans-serif" font-size="17" fill="#444" dominant-baseline="central">应用</text>
<path d="M1742,5507 H2463" stroke="#ddd" stroke-width="2"/>
<g font-family="Noto Sans CJK SC, Liberation Sans, sans-serif" font-size="22" fill="#222" dominant-baseline="central">
<text x="1752" y="5535">zs</text>
<text x="1752" y="5565">jstl存储数据</text>
<text x="1752" y="5593">没找到</text>
<text x="1752" y="5623">jstl存储数据</text>
<text x="1752" y="5653">93: A</text>
<text x="1752" y="5682">A</text>
<text x="1752" y="5712" textLength="647" lengthAdjust="spacingAndGlyphs">Stu{id=1, name='ls', age=18} Stu{id=2, name='ww', age=22}</text>
<text x="1752" y="5767" textLength="647" lengthAdjust="spacingAndGlyphs">Stu{id=1, name='ls', age=18} Stu{id=2, name='ww', age=22}</text>
</g>
<path d="M1752,5737 H2463" stroke="#888" stroke-width="2"/>
</g>
<text class="t tm" x="2093" y="5843" font-size="34">结果显示</text></g>

<text x="4998" y="6082" font-family="Liberation Sans, sans-serif" font-size="16" fill="#bbb" text-anchor="end" dominant-baseline="central">CSDN @Jiangjiaxinhai</text>
</svg>
